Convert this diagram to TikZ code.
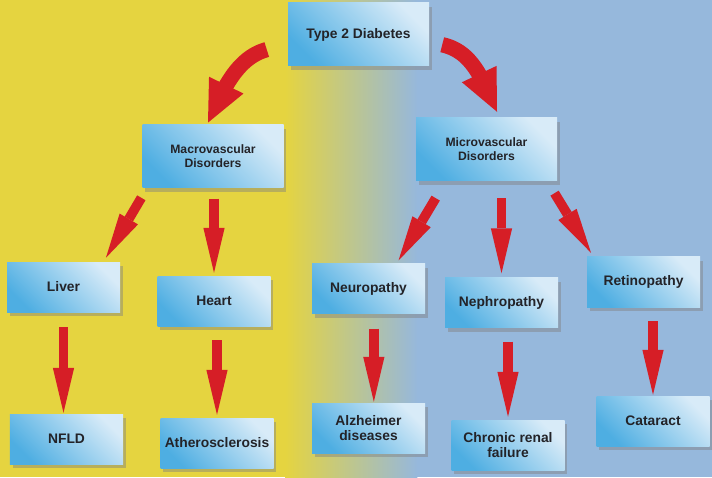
\documentclass[tikz,border=0pt]{standalone}
\usepackage{fontspec}
\setmainfont{Liberation Sans}
\usetikzlibrary{arrows.meta,bending,shadows}

\definecolor{fondjaune}{RGB}{229,212,64}
\definecolor{fondbleu}{RGB}{150,184,220}
\definecolor{boitefonce}{RGB}{78,174,226}
\definecolor{boiteclair}{RGB}{216,235,248}
\definecolor{rougefleche}{RGB}{214,30,38}
\definecolor{texte}{RGB}{35,35,40}

\tikzset{
  boite/.style={draw=none, top color=boiteclair, bottom color=boitefonce,
    shading angle=-45, minimum width=3.39cm, minimum height=1.5cm,
    align=center, text=texte, font=\bfseries\fontsize{11.8}{13}\selectfont,
    drop shadow={shadow xshift=2.5pt, shadow yshift=-3.5pt, opacity=0.45}},
  grande/.style={boite, minimum width=4.23cm, minimum height=1.89cm,
    font=\bfseries\fontsize{10.4}{12}\selectfont},
  fleche/.style={draw=rougefleche, line width=0.29cm,
    -{Triangle[length=1.35cm,width=0.64cm,line width=0pt]}},
  courbe/.style={draw=rougefleche, line width=0.46cm,
    -{Triangle[length=1.25cm,width=1.15cm,line width=0pt,flex]}},
}

\begin{document}
\begin{tikzpicture}

\useasboundingbox (0,0) rectangle (21.36,14.31);

% Fond
\fill[fondjaune] (0,0) rectangle (8.56,14.31);
\shade[left color=fondjaune, right color=fondbleu] (8.55,0) rectangle (12.52,14.31);
\fill[fondbleu] (12.51,0) rectangle (21.36,14.31);

% Noeuds
\node[grande, font=\bfseries\fontsize{11.8}{14}\selectfont] (diab) at (10.755,13.275) {Type 2 Diabetes};
\node[grande] (macro) at (6.39,9.63) {Macrovascular\\Disorders};
\node[grande] (micro) at (14.595,9.825) {Microvascular\\Disorders};
\node[boite] (liver) at (1.905,5.70) {Liver};
\node[boite] (heart) at (6.42,5.28) {Heart};
\node[boite] (neuro) at (11.055,5.655) {Neuropathy};
\node[boite] (nephro) at (15.045,5.235) {Nephropathy};
\node[boite] (retino) at (19.305,5.85) {Retinopathy};
\node[boite] (nfld) at (1.995,1.14) {NFLD};
\node[boite] (athero) at (6.51,1.02) {Atherosclerosis};
\node[boite] (alz) at (11.055,1.47) {Alzheimer\\diseases};
\node[boite] (renal) at (15.24,0.96) {Chronic renal\\failure};
\node[boite] (cataract) at (19.59,1.68) {Cataract};

% Flèches courbes
\draw[courbe] ([shift={(-0.63,0.5)}]diab.south west) .. controls +(-0.9,-0.25) and +(0.45,1.0) .. ([shift={(-0.15,0.05)}]macro.north);
\draw[courbe] ([shift={(0.39,0.645)}]diab.south east) .. controls +(0.9,-0.2) and +(-0.45,1.0) .. ([shift={(0.315,0.18)}]micro.north);

% Flèches
\draw[fleche, shorten <=0.35cm, shorten >=0.14cm] ([xshift=0.15cm]macro.south west) -- ([xshift=-0.5cm]liver.north east);
\draw[fleche, shorten <=0.33cm, shorten >=0.09cm] (macro.south -| heart.north) -- (heart.north);
\draw[fleche, shorten <=0.59cm, shorten >=0.1cm] ([xshift=0.9cm]micro.south west) -- ([xshift=0.85cm]neuro.north);
\draw[fleche, shorten <=0.51cm, shorten >=0.12cm] (micro.south -| nephro.north) -- (nephro.north);
\draw[fleche, shorten <=0.42cm, shorten >=0.14cm] ([xshift=-0.3cm]micro.south east) -- ([xshift=0.2cm]retino.north west);

\draw[fleche, shorten <=0.45cm, shorten >=0.03cm] (liver.south) -- (liver.south |- nfld.north);
\draw[fleche, shorten <=0.42cm, shorten >=0.09cm] (heart.south -| athero.north) -- (athero.north);
\draw[fleche, shorten <=0.45cm, shorten >=0.03cm] ([xshift=0.16cm]neuro.south) -- ([xshift=0.16cm]alz.north);
\draw[fleche, shorten <=0.42cm, shorten >=0.09cm] (nephro.south -| renal.north) -- (renal.north);
\draw[fleche, shorten <=0.42cm, shorten >=0.03cm] (retino.south -| cataract.north) -- (cataract.north);

\end{tikzpicture}
\end{document}
